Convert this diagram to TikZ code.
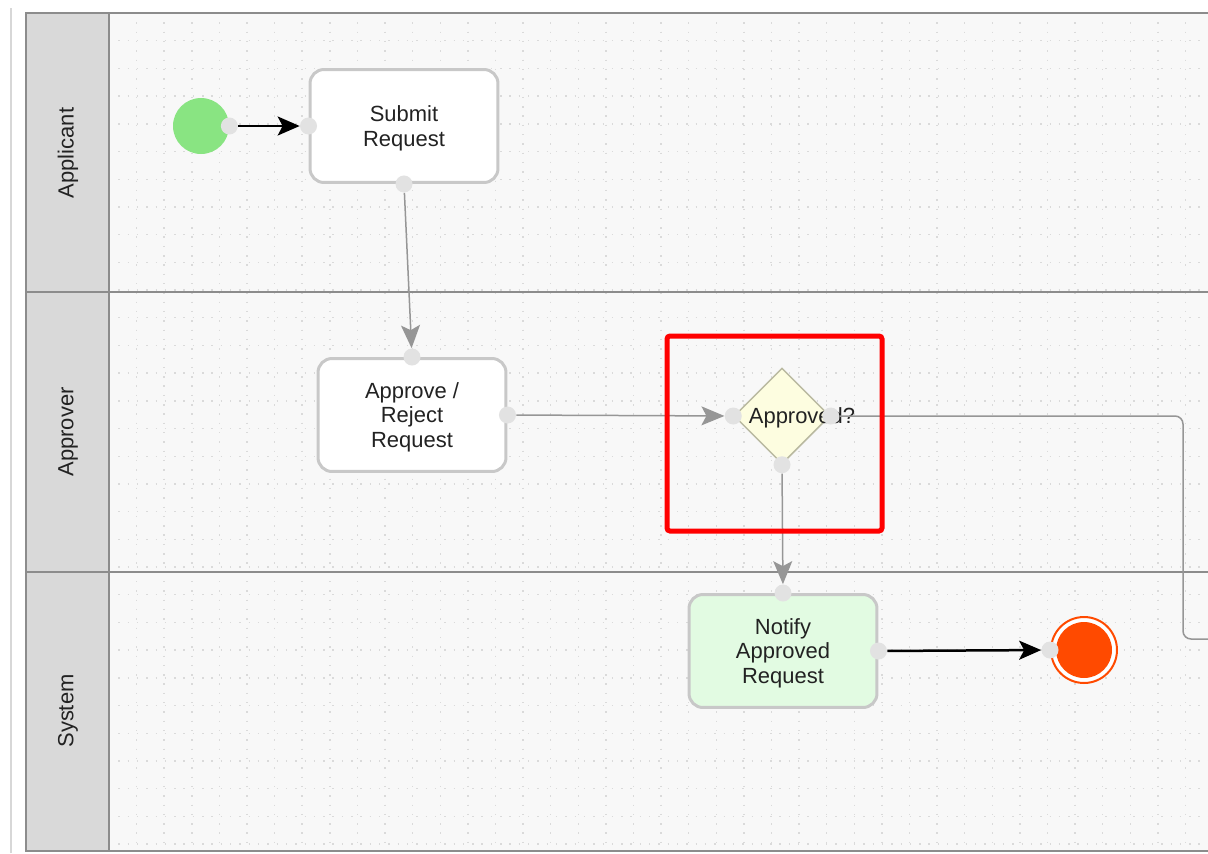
\documentclass[tikz,border=0pt]{standalone}
\usepackage{fontspec}
\setmainfont{Liberation Sans}
\usetikzlibrary{calc, positioning, shapes.geometric, arrows.meta}

\definecolor{lanebg}{RGB}{248,248,248}
\definecolor{headbg}{RGB}{217,217,217}
\definecolor{laneline}{RGB}{140,140,140}
\definecolor{griddot}{RGB}{218,218,218}
\definecolor{shadowgray}{RGB}{215,215,215}
\definecolor{taskborder}{RGB}{200,200,200}
\definecolor{notifyfill}{RGB}{226,251,226}
\definecolor{startgreen}{RGB}{137,228,130}
\definecolor{gatewayfill}{RGB}{253,253,224}
\definecolor{gatewayborder}{RGB}{185,185,160}
\definecolor{portgray}{RGB}{226,226,226}
\definecolor{flowgray}{RGB}{150,150,150}
\definecolor{endorange}{RGB}{255,74,0}
\definecolor{textdark}{RGB}{34,34,34}

\begin{document}
\begin{tikzpicture}[x=0.02cm, y=-0.02cm,
    lane/.style={draw=laneline, line width=0.03cm},
    lanetitle/.style={rotate=90, text=textdark, font=\fontsize{12.5}{14.2}\selectfont},
    task/.style={draw=taskborder, line width=0.06cm, rounded corners=0.28cm, fill=white,
        minimum width=3.76cm, minimum height=2.26cm, align=center, text=textdark,
        text depth=0pt, font=\fontsize{12.5}{14.2}\selectfont},
    port/.style={circle, fill=portgray, inner sep=0pt, minimum size=0.34cm},
    flow/.style={draw=flowgray, line width=0.03cm, -{Stealth[length=0.46cm, width=0.38cm, inset=0.1cm]}},
    seq/.style={draw=black, line width=0.05cm, -{Stealth[length=0.44cm, width=0.38cm, inset=0.1cm]}}]

    \useasboundingbox (0,0) rectangle (1208,853);
    \fill[white] (0,0) rectangle (1208,853);
    \draw[shadowgray, line width=0.04cm] (11,853) -- (11,8);

    % pool and lanes
    \fill[lanebg] (109,13) rectangle (1208,851);
    \fill[headbg] (26,13) rectangle (109,851);
    \foreach \gy in {13,40.7,...,851}
        \draw[griddot, line width=0.8pt, dash pattern=on 0.8pt off 4.5pt] (109,\gy) -- (1208,\gy);
    \foreach \gx in {109,136.6,...,1208}
        \draw[griddot, line width=0.8pt, dash pattern=on 0.8pt off 4.5pt] (\gx,13) -- (\gx,851);
    \draw[lane] (1208,13) -- (26,13) -- (26,851) -- (1208,851);
    \draw[lane] (26,292) -- (1208,292);
    \draw[lane] (26,572) -- (1208,572);
    \draw[lane] (109,13) -- (109,851);

    \node[lanetitle] (applicant) at (68,153) {Applicant};
    \node[lanetitle] (approver) at (68,432) {Approver};
    \node[lanetitle] (system) at (68,711) {System};

    % events, tasks, gateway
    \node[circle, fill=startgreen, minimum size=1.12cm, inner sep=0pt] (start) at (201,126) {};
    \node[task] (submit) at (404,126) {Submit\\Request};
    \node[task] (review) at (412,415) {Approve /\\Reject\\Request};
    \node[diamond, draw=gatewayborder, fill=gatewayfill, line width=0.03cm,
        minimum size=1.92cm, inner sep=0pt] (gateway) at (782,416) {};
    \node[text=textdark, font=\fontsize{12.5}{14.2}\selectfont] (gwlabel) at (802,418) {Approved?};
    \node[task, fill=notifyfill] (notify) at (783,651) {Notify\\Approved\\Request};
    \node[circle, draw=endorange, line width=0.04cm, fill=white, minimum size=1.32cm,
        inner sep=0pt] (endring) at (1084,650) {};
    \node[circle, fill=endorange, minimum size=1.12cm, inner sep=0pt] (finish) at (1084,650) {};

    % ports
    \node[port] (startout) at (start.east) {};
    \node[port] (submitin) at (submit.west) {};
    \node[port] (submitout) at (submit.south) {};
    \node[port] (reviewin) at (review.north) {};
    \node[port] (reviewout) at (review.east) {};
    \node[port] (gatein) at (gateway.west) {};
    \node[port] (gateno) at (gateway.east) {};
    \node[port] (gateyes) at (gateway.south) {};
    \node[port] (notifyin) at (notify.north) {};
    \node[port] (notifyout) at (notify.east) {};
    \node[port] (finishin) at (endring.west) {};

    % sequence flows
    \draw[seq] (startout) -- (submitin);
    \draw[flow] (submitout) -- (reviewin);
    \draw[flow] (reviewout) -- (gatein);
    \draw[flow] (gateyes) -- (notifyin);
    \draw[seq] (notifyout) -- (finishin);
    \coordinate (bend) at (1183,639);
    \coordinate (offpage) at (1208,639);
    \draw[flow, -, rounded corners=0.16cm] (gateno.east) -- (gateno.east -| bend) -- (bend) -- (offpage);

    % highlight
    \draw[red, line width=0.1cm, rounded corners=0.06cm] (667,336) rectangle (882,531);
\end{tikzpicture}
\end{document}
